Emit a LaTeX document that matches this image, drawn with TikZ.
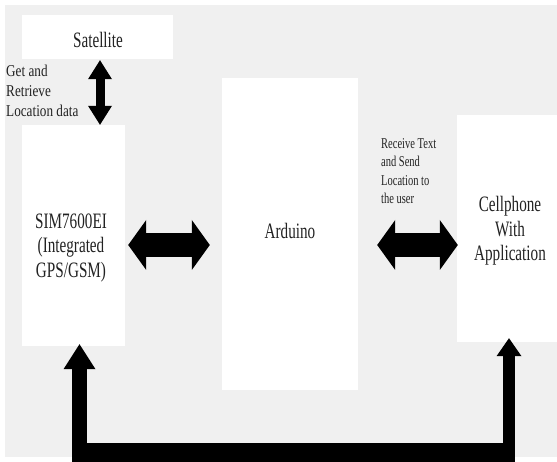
\documentclass[tikz,border=0pt]{standalone}
\usepackage{fontspec}
\setmainfont{Liberation Serif}
\newfontfamily\bigf[FakeStretch=0.69]{Liberation Serif}
\newfontfamily\lblf[FakeStretch=0.80]{Liberation Serif}
\newfontfamily\rlblf[FakeStretch=0.70]{Liberation Serif}
\usetikzlibrary{arrows.meta}
\definecolor{bggray}{HTML}{F0F0F0}
\definecolor{txt}{HTML}{222222}
\begin{document}
\begin{tikzpicture}[x=1pt,y=-1pt,
  box/.style={fill=white,draw=none,inner sep=0pt},
  bigtext/.style={inner sep=0pt,align=center,text=txt,font=\bigf\fontsize{22}{24.5}\selectfont},
  lefttext/.style={inner sep=0pt,align=left,anchor=west,text=txt,font=\lblf\fontsize{16.5}{20}\selectfont},
  righttext/.style={inner sep=0pt,align=left,anchor=west,text=txt,font=\rlblf\fontsize{15}{18.5}\selectfont},
  harrow/.style={line width=24pt,line cap=butt,
    {Triangle[width=50pt,length=18pt,line width=0pt]}-{Triangle[width=50pt,length=18pt,line width=0pt]}},
  varrow/.style={line width=9pt,line cap=butt,
    {Triangle[width=24pt,length=19pt,line width=0pt]}-{Triangle[width=24pt,length=19pt,line width=0pt]}},
  uparrowL/.style={line width=15pt,line cap=butt,-{Triangle[width=32pt,length=25pt,line width=0pt]}},
  uparrowR/.style={line width=12pt,line cap=butt,-{Triangle[width=25pt,length=18pt,line width=0pt]}},
  barline/.style={line width=24pt,line cap=butt}
]
\useasboundingbox (0,0) rectangle (557,462);
\fill[bggray] (5,5) rectangle (557,457);

% boxes
\node[box,minimum width=151pt,minimum height=44pt] (sat) at (97.5,37) {};
\node[box,minimum width=103pt,minimum height=221pt] (sim) at (73.5,235.5) {};
\node[box,minimum width=136pt,minimum height=312pt] (ard) at (290,234) {};
\node[box,minimum width=100pt,minimum height=227pt] (cell) at (507,228.5) {};

% texts
\node[bigtext] (sattxt) at (98,40) {Satellite};
\node[bigtext] (simtxt) at (71,248) {SIM7600EI\\(Integrated\\GPS/GSM)};
\node[bigtext] (ardtxt) at (290,231) {Arduino};
\node[bigtext] (celltxt) at (510,231) {Cellphone\\With\\Application};
\node[lefttext] (getlbl) at (6,91) {Get and\\Retrieve\\Location data};
\node[righttext] (rcvlbl) at (381,171) {Receive Text\\and Send\\Location to\\the user};

% connectors
\draw[varrow] ([xshift=2.5pt,yshift=-1pt]sat.south) -- ([xshift=2.5pt]sat.south |- sim.north);
\draw[harrow] ([shift={(3pt,-9.5pt)}]sim.east) -- ([shift={(-12pt,-11pt)}]ard.west);
\draw[harrow] ([shift={(19pt,-11pt)}]ard.east) -- ([shift={(1pt,-16.5pt)}]cell.west);

\coordinate (barL) at (72,455);
\coordinate (barR) at (515,455);
\coordinate (upL) at (79.5,450);
\coordinate (upR) at (509,450);
\draw[barline] (barL) -- (barR);
\draw[uparrowL] (upL) -- ([xshift=6pt,yshift=2pt]sim.south);
\draw[uparrowR] (upR) -- ([xshift=2pt,yshift=4pt]cell.south);
\end{tikzpicture}
\end{document}
